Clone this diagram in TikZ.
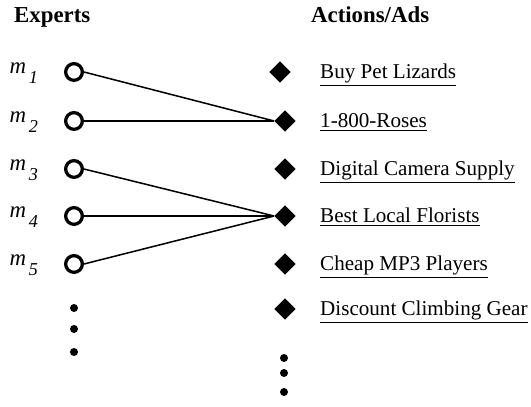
\documentclass[tikz,border=0pt]{standalone}
\usepackage{fontspec}
\setmainfont{Liberation Serif}
\usetikzlibrary{shapes.geometric}
% expert label: italic m with a lowered italic index
\newcommand{\explabel}[1]{{\itshape\fontsize{19.5}{22}\selectfont m\kern2.5pt\raisebox{-0.32cm}{\fontsize{15.5}{18}\selectfont #1}}}
\begin{document}
\begin{tikzpicture}[font=\fontsize{18}{22}\selectfont,
    expert/.style={circle, draw, line width=2.8pt, minimum size=0.5cm, inner sep=0pt},
    adnode/.style={diamond, fill, inner sep=0pt, minimum size=0.64cm},
    vdot/.style={circle, fill, inner sep=0pt, minimum size=0.24cm},
    head/.style={anchor=base west, font=\fontsize{19.5}{22}\selectfont\bfseries},
    link/.style={line width=1.3pt}]
  \useasboundingbox (0,0) rectangle (15.93,12.21);
  % column headings
  \node[head] (hexp) at (0.30,11.52) {Experts};
  \node[head] (hads) at (9.21,11.52) {Actions/Ads};
  % experts m1..m5
  \foreach \i/\y in {1/10.05, 2/8.58, 3/7.14, 4/5.73, 5/4.29} {
    \node[expert] (m\i) at (2.22,\y) {};
    \node[anchor=base west, inner sep=0pt] (lm\i) at (0.28,\y-0.04) {\explabel{\i}};
  }
  \node[vdot] (ld1) at (2.22,2.97) {};
  \node[vdot] (ld2) at (2.22,2.34) {};
  \node[vdot] (ld3) at (2.22,1.65) {};
  % actions / ads
  \foreach \i/\x/\y/\txt in {1/8.40/10.05/Buy Pet Lizards,
      2/8.55/8.58/1-800-Roses,
      3/8.55/7.14/Digital Camera Supply,
      4/8.55/5.73/Best Local Florists,
      5/8.55/4.29/Cheap MP3 Players,
      6/8.55/2.94/Discount Climbing Gear} {
    \node[adnode] (a\i) at (\x,\y) {};
    \node[anchor=base west, inner sep=0pt] (t\i) at (9.60,\y-0.21) {\underline{\txt}};
  }
  \node[vdot] (rd1) at (8.52,1.47) {};
  \node[vdot] (rd2) at (8.52,1.02) {};
  \node[vdot] (rd3) at (8.52,0.45) {};
  % who advertises where
  \foreach \s/\t in {1/2, 2/2, 3/4, 4/4, 5/4}
    \draw[link] (m\s.east) -- (a\t.west);
\end{tikzpicture}
\end{document}
